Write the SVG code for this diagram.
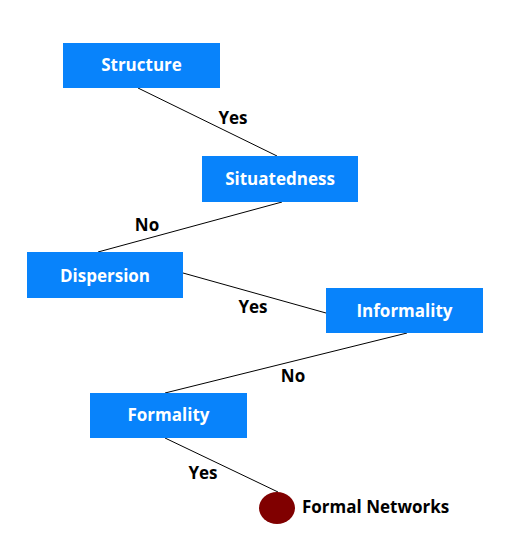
<svg xmlns="http://www.w3.org/2000/svg" width="526" height="543" viewBox="0 0 526 543">
<style>
.box{fill:#0883fb}
.bt{fill:#fff;font-family:"Open Sans","DejaVu Sans",sans-serif;font-weight:bold;font-size:17px;text-anchor:middle}
.lbl{fill:#000;font-family:"Open Sans","DejaVu Sans",sans-serif;font-weight:bold;font-size:17px;text-anchor:middle}
.edge{stroke:#000;stroke-width:1;fill:none}
</style>
<rect width="526" height="543" fill="#fff"/>
<g id="connectors">
<line class="edge" x1="138" y1="88" x2="277" y2="156"/>
<line class="edge" x1="282" y1="202" x2="98" y2="252"/>
<line class="edge" x1="183" y1="273" x2="326" y2="313"/>
<line class="edge" x1="407" y1="333" x2="165" y2="393"/>
<line class="edge" x1="165" y1="438" x2="278" y2="492"/>
<text class="lbl" x="233" y="124">Yes</text>
<text class="lbl" x="147" y="231">No</text>
<text class="lbl" x="253" y="313">Yes</text>
<text class="lbl" x="293" y="382">No</text>
<text class="lbl" x="203" y="479">Yes</text>
</g>
<g id="structure"><rect class="box" x="63" y="43" width="157" height="45"/><text class="bt" x="141.5" y="71">Structure</text></g>
<g id="situatedness"><rect class="box" x="202" y="156" width="156" height="46"/><text class="bt" x="280" y="185">Situatedness</text></g>
<g id="dispersion"><rect class="box" x="27" y="252" width="156" height="46"/><text class="bt" x="105" y="282">Dispersion</text></g>
<g id="informality"><rect class="box" x="326" y="288" width="157" height="45"/><text class="bt" x="404.5" y="317">Informality</text></g>
<g id="formality"><rect class="box" x="90" y="393" width="157" height="45"/><text class="bt" x="168.5" y="421">Formality</text></g>
<g id="formal-networks"><ellipse cx="277" cy="508" rx="18" ry="16" fill="#800000"/><text x="302" y="513" font-family="'Open Sans','DejaVu Sans',sans-serif" font-weight="bold" font-size="17" fill="#000">Formal Networks</text></g>
</svg>
